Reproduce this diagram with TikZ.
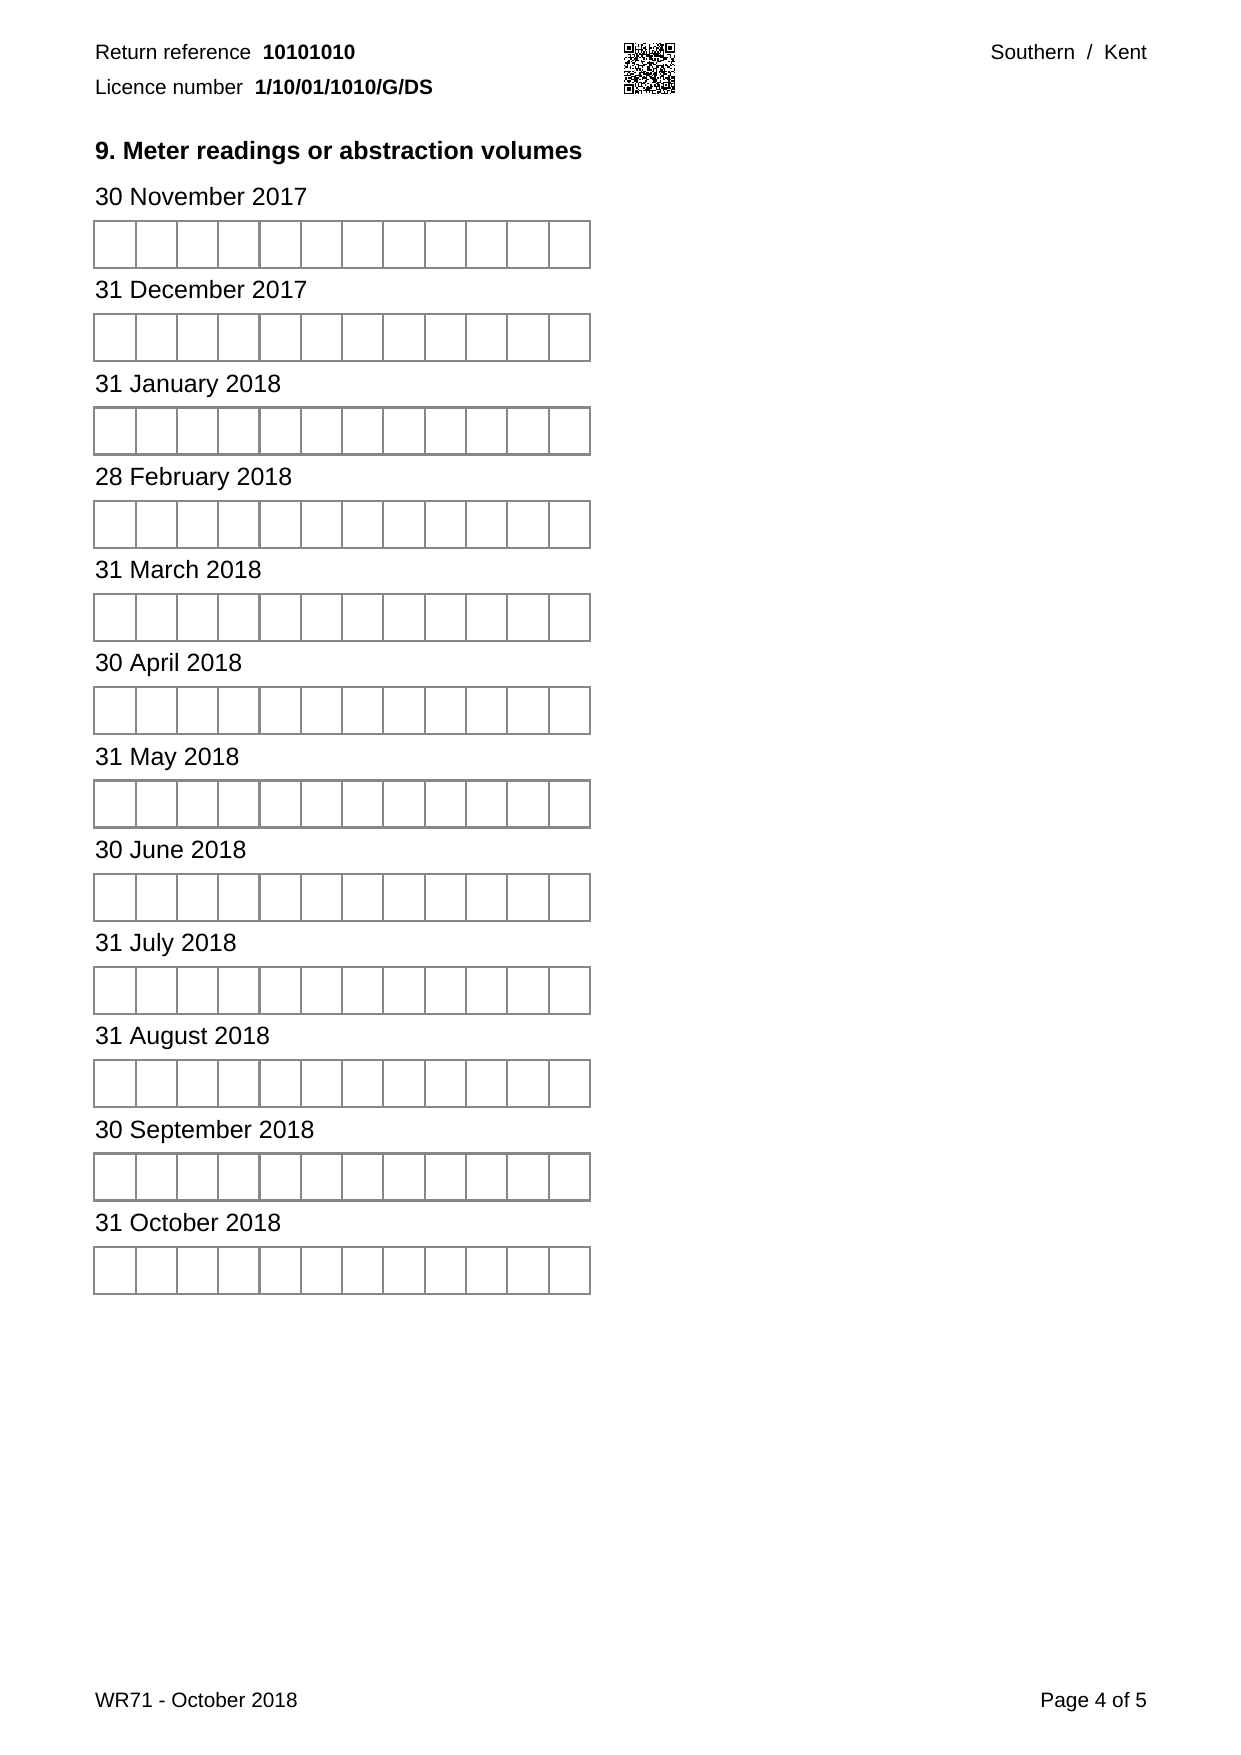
\documentclass[tikz,border=0pt]{standalone}
\usepackage{fontspec}
\setmainfont{Liberation Sans}
\definecolor{boxgray}{RGB}{135,135,135}
\frenchspacing
\begin{document}
\begin{tikzpicture}[x=0.48006pt,y=-0.48006pt,
  txt/.style={anchor=base west,inner sep=0pt,outer sep=0pt},
  txtr/.style={anchor=base east,inner sep=0pt,outer sep=0pt},
  small/.style={font=\fontsize{10}{12}\selectfont},
  datefont/.style={font=\fontsize{12}{14}\selectfont},
  headfont/.style={font=\bfseries\fontsize{12}{14}\selectfont},
  cellline/.style={draw=boxgray,line width=1pt},
  qrmod/.style={fill=black}]
\useasboundingbox (0,0) rectangle (1240,1755);

% header
\node[txt,small] (retref) at (95,59.3) {Return reference\ \ \textbf{10101010}};
\node[txt,small] (licnum) at (95,95) {Licence number\ \ \textbf{1/10/01/1010/G/DS}};
\node[txtr,small] (region) at (1147,59.3) {Southern\ \ /\ \ Kent};

% QR-like code
\def\qrx{624}\def\qry{43}\def\qrm{1.38}
\pgfmathsetseed{4242}
\foreach \i in {0,...,36}{
  \foreach \j in {0,...,36}{
    \pgfmathtruncatemacro\inz{((\i<8)&&(\j<8))||((\i>28)&&(\j<8))||((\i<8)&&(\j>28))||(\i==6)||(\j==6)||((\i>27)&&(\i<33)&&(\j>27)&&(\j<33)) ? 1 : 0}
    \ifnum\inz=0
      \pgfmathrandominteger{\qrbit}{0}{1}
      \ifnum\qrbit=1
        \fill[qrmod] ({\qrx+\i*\qrm},{\qry+\j*\qrm}) rectangle ++(\qrm,\qrm);
      \fi
    \fi
  }
}
% timing patterns
\foreach \k in {8,10,...,28}{
  \fill[qrmod] ({\qrx+\k*\qrm},{\qry+6*\qrm}) rectangle ++(\qrm,\qrm);
  \fill[qrmod] ({\qrx+6*\qrm},{\qry+\k*\qrm}) rectangle ++(\qrm,\qrm);
}
% finder patterns
\foreach \a/\b in {0/0,30/0,0/30}{
  \fill[black] ({\qrx+\a*\qrm},{\qry+\b*\qrm}) rectangle ++({7*\qrm},{7*\qrm});
  \fill[white] ({\qrx+(\a+1)*\qrm},{\qry+(\b+1)*\qrm}) rectangle ++({5*\qrm},{5*\qrm});
  \fill[black] ({\qrx+(\a+2)*\qrm},{\qry+(\b+2)*\qrm}) rectangle ++({3*\qrm},{3*\qrm});
}
% alignment pattern
\fill[black] ({\qrx+28*\qrm},{\qry+28*\qrm}) rectangle ++({5*\qrm},{5*\qrm});
\fill[white] ({\qrx+29*\qrm},{\qry+29*\qrm}) rectangle ++({3*\qrm},{3*\qrm});
\fill[black] ({\qrx+30*\qrm},{\qry+30*\qrm}) rectangle ++({\qrm},{\qrm});

% heading
\node[txt,headfont] (heading) at (95,160) {9. Meter readings or abstraction volumes};

% date rows with 12-cell boxes
\foreach \lab [count=\k from 0] in {30 November 2017,31 December 2017,31 January 2018,28 February 2018,31 March 2018,30 April 2018,31 May 2018,30 June 2018,31 July 2018,31 August 2018,30 September 2018,31 October 2018}{
  \pgfmathsetmacro\top{221+93.25*\k}
  \node[txt,datefont] (date\k) at (95,{\top-15.5}) {\lab};
  \draw[cellline] (94.3,\top) rectangle (589.9,{\top+47});
  \foreach \c in {1,...,11}{
    \draw[cellline] ({94.3+41.3*\c},\top) -- ({94.3+41.3*\c},{\top+47});
  }
}

% footer
\node[txt,small] (footl) at (95,1707) {WR71 - October 2018};
\node[txtr,small] (footr) at (1147,1707) {Page 4 of 5};
\end{tikzpicture}
\end{document}
